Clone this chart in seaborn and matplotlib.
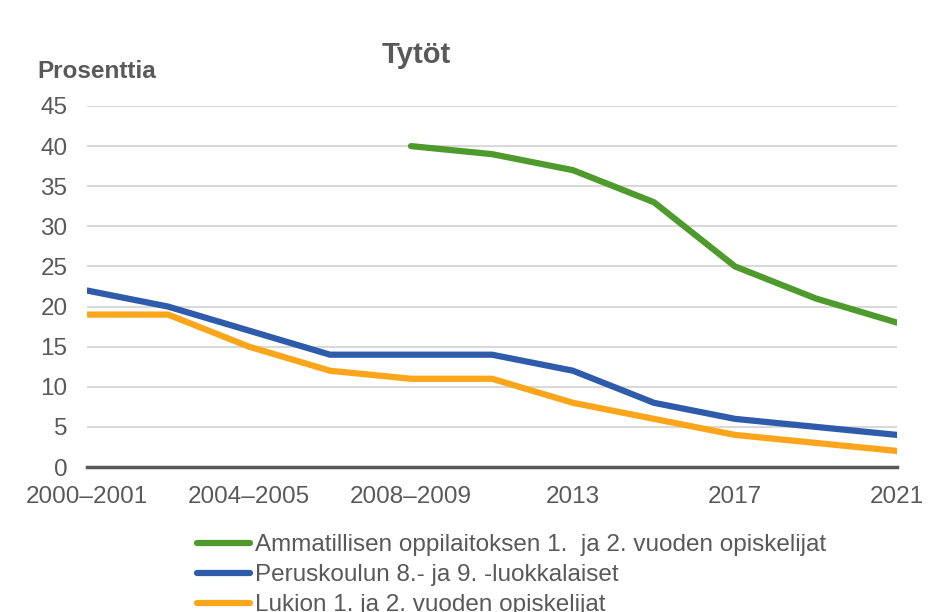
import numpy as np
import pandas as pd
import seaborn as sns
import matplotlib
matplotlib.use('Agg')
import matplotlib.pyplot as plt

# data
years = ["2000–2001", "2002–2003", "2004–2005", "2006–2007", "2008–2009",
         "2010–2011", "2013", "2015", "2017", "2019", "2021"]
ammatillinen = [np.nan, np.nan, np.nan, np.nan, 40, 39, 37, 33, 25, 21, 18]
peruskoulu = [22, 20, 17, 14, 14, 14, 12, 8, 6, 5, 4]
lukio = [19, 19, 15, 12, 11, 11, 8, 6, 4, 3, 2]

labels = ["Ammatillisen oppilaitoksen 1.  ja 2. vuoden opiskelijat",
          "Peruskoulun 8.- ja 9. -luokkalaiset",
          "Lukion 1. ja 2. vuoden opiskelijat"]
colors = ["#4E9A2C", "#2E5CAB", "#FBA51B"]

rows = []
for name, vals in zip(labels, [ammatillinen, peruskoulu, lukio]):
    for i, v in enumerate(vals):
        rows.append({"x": i, "value": v, "group": name})
df = pd.DataFrame(rows)

sns.set_style("white")
plt.rcParams['font.family'] = ['Liberation Sans', 'DejaVu Sans']
text_gray = "#595959"

fig = plt.figure(figsize=(9.37, 6.12), dpi=100)
ax = fig.add_axes([87/937, 1 - 467/612, 810/937, 361/612])

sns.lineplot(data=df, x="x", y="value", hue="group", hue_order=labels,
             palette=colors, linewidth=4.5, ax=ax, legend=False)

ax.set_xlim(0, len(years) - 1)
ax.set_ylim(0, 45)
ax.set_yticks(range(0, 50, 5))
ax.set_xticks(range(0, len(years), 2))
ax.set_xticklabels(years[::2])
ax.tick_params(axis='both', length=0, labelsize=17.5, labelcolor=text_gray)
ax.tick_params(axis='y', pad=14)
ax.tick_params(axis='x', pad=14)
ax.set_xlabel("")
ax.set_ylabel("")
ax.yaxis.grid(True, color="#D9D9D9", linewidth=1.5)
ax.set_axisbelow(True)
for side in ["left", "right", "top"]:
    ax.spines[side].set_visible(False)
ax.spines["bottom"].set_color(text_gray)
ax.spines["bottom"].set_linewidth(2.5)
ax.spines["bottom"].set_zorder(5)

fig.text(416/937, 1 - 55/612, "Tytöt", ha="center", va="center",
         fontsize=21, fontweight="bold", color=text_gray)
fig.text(37/937, 1 - 71/612, "Prosenttia", ha="left", va="center",
         fontsize=17.5, fontweight="bold", color=text_gray)

handles = [plt.Line2D([], [], color=c, linewidth=4.5, solid_capstyle="round")
           for c in colors]
leg = fig.legend(handles, labels, loc="upper left",
                 bbox_to_anchor=(197/937, 1 - 534/612), frameon=False,
                 fontsize=17.5, handlelength=2.2, handletextpad=0.2,
                 labelspacing=0.33, borderpad=0, borderaxespad=0)
for t in leg.get_texts():
    t.set_color(text_gray)

fig.savefig("out.png", dpi=100)
